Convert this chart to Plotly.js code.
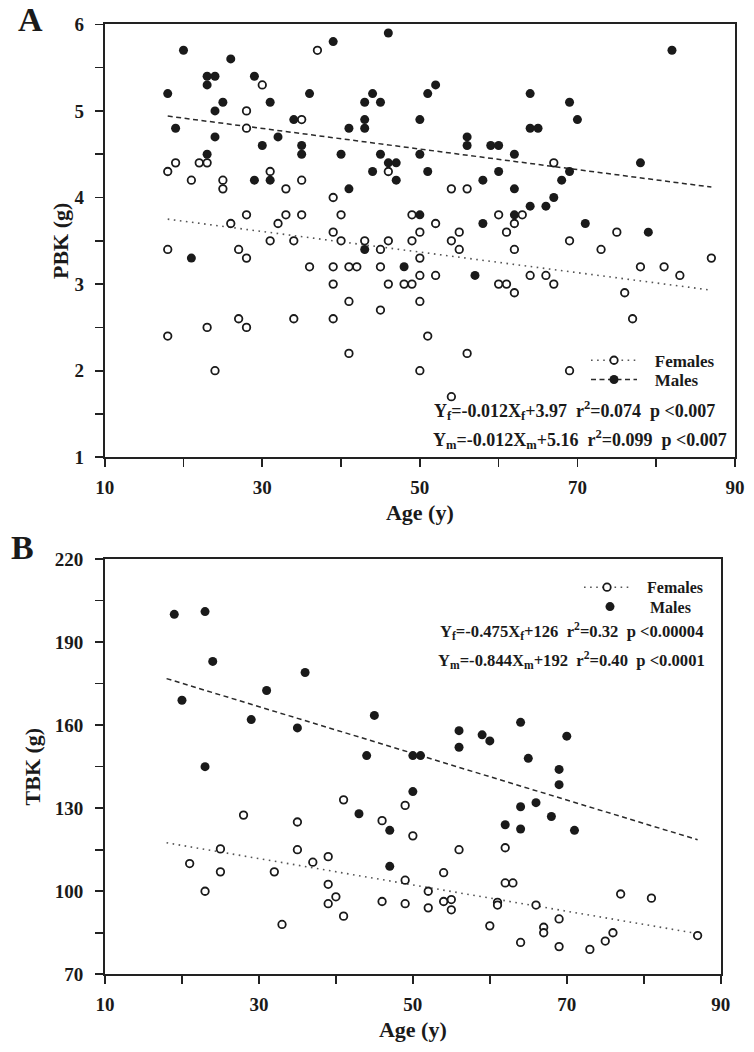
<!DOCTYPE html>
<html>
<head>
<meta charset="utf-8">
<script src="https://cdn.plot.ly/plotly-3.0.1.min.js"></script>
<style>
  html, body { margin: 0; padding: 0; background: #ffffff; }
  #chart { width: 754px; height: 1052px; }
</style>
</head>
<body>
<div id="chart"></div>
<script>
// ---------- Panel A: PBK (g) vs Age (y) ----------
var femaleAgeA = [30,37,35,28,28,46,19,18,22,23,21,25,25,31,33,35,39,28,26,33,35,32,40,49,39,50,
  31,34,40,43,46,49,18,27,28,45,50,36,39,41,42,45,50,39,46,48,49,41,50,45,27,34,39,23,28,18,51,41,24,50,
  54,56,67,60,63,52,62,55,61,75,54,55,62,69,73,87,52,60,61,62,64,66,67,78,81,83,76,77,56,69,54];
var femalePbkA = [5.3,5.7,4.9,5.0,4.8,4.3,4.4,4.3,4.4,4.4,4.2,4.2,4.1,4.3,4.1,4.2,4.0,3.8,3.7,3.8,3.8,3.7,3.8,3.8,3.6,3.6,
  3.5,3.5,3.5,3.5,3.5,3.5,3.4,3.4,3.3,3.4,3.3,3.2,3.2,3.2,3.2,3.2,3.1,3.0,3.0,3.0,3.0,2.8,2.8,2.7,2.6,2.6,2.6,2.5,2.5,2.4,2.4,2.2,2.0,2.0,
  4.1,4.1,4.4,3.8,3.8,3.7,3.7,3.6,3.6,3.6,3.5,3.4,3.4,3.5,3.4,3.3,3.1,3.0,3.0,2.9,3.1,3.1,3.0,3.2,3.2,3.1,2.9,2.6,2.2,2.0,1.7];

var maleAgeA = [18,20,23,24,23,26,29,36,39,46,51,25,31,24,34,19,41,43,43,43,44,45,50,24,32,30,35,35,23,40,45,50,46,47,
  29,31,41,44,47,51,50,21,43,48,
  82,52,64,69,70,64,65,56,56,59,60,62,78,60,69,68,58,62,67,64,66,62,58,71,79,57];
var malePbkA = [5.2,5.7,5.4,5.4,5.3,5.6,5.4,5.2,5.8,5.9,5.2,5.1,5.1,5.0,4.9,4.8,4.8,4.9,4.8,5.1,5.2,5.1,4.9,4.7,4.7,4.6,4.6,4.5,4.5,4.5,4.5,4.5,4.4,4.4,
  4.2,4.2,4.1,4.3,4.2,4.3,3.8,3.3,3.4,3.2,
  5.7,5.3,5.2,5.1,4.9,4.8,4.8,4.7,4.6,4.6,4.6,4.5,4.4,4.3,4.3,4.2,4.2,4.1,4.0,3.9,3.9,3.8,3.7,3.7,3.6,3.1];

// regression lines (end points), panel A
var fitAgeRange = [18, 87];
var fitFemaleA = [3.75, 2.93];
var fitMaleA = [4.94, 4.12];

// ---------- Panel B: TBK (g) vs Age (y) ----------
var femaleAgeB = [28,41,49,35,46,50,25,35,21,25,23,32,37,39,39,40,39,41,33,46,49,49,52,52,
  56,62,54,62,63,54,55,55,61,61,60,64,66,67,67,69,69,73,75,76,77,81,87];
var femaleTbkB = [127.5,133,131,125,125.5,120,115.3,115,110,107,100,107,110.5,112.5,102.5,98,95.5,91,88,96.3,104,95.5,100,94,
  115,115.7,106.7,103,103,96.3,97,93.3,96,95,87.5,81.5,95,87,85,90,80,79,82,85,99,97.5,84];

var maleAgeB = [19,23,24,20,31,36,29,35,45,56,56,59,60,64,70,23,44,50,51,50,43,47,47,65,69,69,66,64,68,62,64,71];
var maleTbkB = [200,201,183,169,172.5,179,162,159,163.5,158,152,156.5,154.3,161,156,145,149,149,149,136,128,122,109,148,144,138.5,132,130.5,127,124,122.5,122];

var fitFemaleB = [117.5, 84.7];
var fitMaleB = [176.8, 118.6];

// ---------- axis ticks (labelled ticks; unlabelled minor ticks every half step) ----------
var ageTickVals = [10,30,50,70,90];
var ageTickText = ['10','30','50','70','90'];
var pbkTickVals = [1,2,3,4,5,6];
var pbkTickText = ['1','2','3','4','5','6'];
var tbkTickVals = [70,100,130,160,190,220];
var tbkTickText = ['70','100','130','160','190','220'];
var ageMinorStep = 10, pbkMinorStep = 0.5, tbkMinorStep = 15;

// equations / legend labels
var eqA = ['Y<sub>f</sub>=-0.012X<sub>f</sub>+3.97\u00a0\u00a0r<sup>2</sup>=0.074\u00a0\u00a0p &lt;0.007',
           'Y<sub>m</sub>=-0.012X<sub>m</sub>+5.16\u00a0\u00a0r<sup>2</sup>=0.099\u00a0\u00a0p &lt;0.007'];
var eqB = ['Y<sub>f</sub>=-0.475X<sub>f</sub>+126\u00a0\u00a0r<sup>2</sup>=0.32\u00a0\u00a0p &lt;0.00004',
           'Y<sub>m</sub>=-0.844X<sub>m</sub>+192\u00a0\u00a0r<sup>2</sup>=0.40\u00a0\u00a0p &lt;0.0001'];
var legendNames = ['Females', 'Males'];

// ---------- layout helpers ----------
var W = 754, H = 1052;
function px(x) { return x / W; }
function py(y) { return 1 - y / H; }

var FONT = 'Liberation Serif, Times New Roman, serif';
var INK = '#1a1a1a';
var PAD = '\u00a0\u00a0\u00a0';

var openMarker = { symbol: 'circle', size: 7.5, color: '#ffffff', line: { color: INK, width: 1.8 } };
var fillMarker = { symbol: 'circle', size: 9, color: INK, line: { color: INK, width: 0 } };
var dotLine = { color: '#555555', width: 1.6, dash: '1.6px,4.5px' };
var dashLine = { color: '#2a2a2a', width: 1.5, dash: '5px,3.5px' };

var traces = [
  // Panel A
  { x: fitAgeRange, y: fitFemaleA, mode: 'lines', line: dotLine, xaxis: 'x', yaxis: 'y', showlegend: false, hoverinfo: 'skip' },
  { x: fitAgeRange, y: fitMaleA, mode: 'lines', line: dashLine, xaxis: 'x', yaxis: 'y', showlegend: false, hoverinfo: 'skip' },
  { x: maleAgeA, y: malePbkA, mode: 'markers', marker: fillMarker, xaxis: 'x', yaxis: 'y', showlegend: false, name: 'Males' },
  { x: femaleAgeA, y: femalePbkA, mode: 'markers', marker: openMarker, xaxis: 'x', yaxis: 'y', showlegend: false, name: 'Females' },
  // Panel A legend entries
  { x: [null], y: [null], mode: 'lines+markers', line: dotLine, marker: openMarker, xaxis: 'x', yaxis: 'y', name: PAD + legendNames[0], legend: 'legend', showlegend: true },
  { x: [null], y: [null], mode: 'lines+markers', line: dashLine, marker: fillMarker, xaxis: 'x', yaxis: 'y', name: PAD + legendNames[1], legend: 'legend2', showlegend: true },
  // Panel B
  { x: fitAgeRange, y: fitFemaleB, mode: 'lines', line: dotLine, xaxis: 'x2', yaxis: 'y2', showlegend: false, hoverinfo: 'skip' },
  { x: fitAgeRange, y: fitMaleB, mode: 'lines', line: dashLine, xaxis: 'x2', yaxis: 'y2', showlegend: false, hoverinfo: 'skip' },
  { x: maleAgeB, y: maleTbkB, mode: 'markers', marker: fillMarker, xaxis: 'x2', yaxis: 'y2', showlegend: false, name: 'Males' },
  { x: femaleAgeB, y: femaleTbkB, mode: 'markers', marker: openMarker, xaxis: 'x2', yaxis: 'y2', showlegend: false, name: 'Females' },
  // Panel B legend entries
  { x: [null], y: [null], mode: 'lines+markers', line: dotLine, marker: openMarker, xaxis: 'x2', yaxis: 'y2', name: PAD + legendNames[0], legend: 'legend3', showlegend: true },
  { x: [null], y: [null], mode: 'markers', marker: fillMarker, xaxis: 'x2', yaxis: 'y2', name: PAD + legendNames[1], legend: 'legend4', showlegend: true }
];

var tickFont = { family: FONT, size: 19, color: INK, weight: 'bold' };
var titleFont = { family: FONT, size: 22, color: INK, weight: 'bold' };

function axisBase(extra, minorStep, minorStart) {
  var a = {
    showline: true, mirror: true, linecolor: '#222222', linewidth: 2,
    ticks: 'outside', ticklen: 8, tickwidth: 1.6, tickcolor: '#222222',
    showgrid: false, zeroline: false, tickmode: 'array',
    minor: { ticks: 'outside', ticklen: 8, tickwidth: 1.6, tickcolor: '#222222', dtick: minorStep, tick0: minorStart, showgrid: false },
    tickfont: tickFont, automargin: false, fixedrange: true
  };
  for (var k in extra) a[k] = extra[k];
  return a;
}

function legendAt(xLeft, yMid, size) {
  return {
    x: px(xLeft), y: py(yMid), xref: 'paper', yref: 'paper',
    xanchor: 'left', yanchor: 'middle', bgcolor: 'rgba(0,0,0,0)', borderwidth: 0,
    itemwidth: 46, font: { family: FONT, size: size, color: INK, weight: 'bold' },
    itemclick: false, itemdoubleclick: false
  };
}

function ann(text, xLeft, yMid, size, anchor) {
  return {
    text: text, xref: 'paper', yref: 'paper', x: px(xLeft), y: py(yMid),
    xanchor: anchor || 'left', yanchor: 'middle', showarrow: false,
    font: { family: FONT, size: size, color: INK, weight: 'bold' }
  };
}

var layout = {
  width: W, height: H,
  margin: { l: 0, r: 0, t: 0, b: 0 },
  paper_bgcolor: '#ffffff', plot_bgcolor: '#ffffff',
  font: { family: FONT, color: INK },
  xaxis: axisBase({
    domain: [px(104.7), px(735)], range: [10, 90], anchor: 'y',
    tickvals: ageTickVals, ticktext: ageTickText, ticklabelstandoff: 4,
    title: { text: 'Age (y)', font: titleFont, standoff: 8 }
  }, ageMinorStep, 10),
  yaxis: axisBase({
    domain: [py(457.3), py(24.3)], range: [1, 6], anchor: 'x',
    tickvals: pbkTickVals, ticktext: pbkTickText, ticklabelstandoff: 7,
    title: { text: 'PBK (g)', font: titleFont, standoff: 0 }
  }, pbkMinorStep, 1),
  xaxis2: axisBase({
    domain: [px(105), px(720.7)], range: [10, 90], anchor: 'y2',
    tickvals: ageTickVals, ticktext: ageTickText, ticklabelstandoff: 4,
    title: { text: 'Age (y)', font: titleFont, standoff: 8 }
  }, ageMinorStep, 10),
  yaxis2: axisBase({
    domain: [py(974.3), py(559)], range: [70, 220], anchor: 'x2',
    tickvals: tbkTickVals, ticktext: tbkTickText, ticklabelstandoff: 8,
    title: { text: 'TBK (g)', font: titleFont, standoff: 8 }
  }, tbkMinorStep, 70),
  legend: legendAt(586, 360.7, 17),
  legend2: legendAt(586, 380, 17),
  legend3: legendAt(579, 587.3, 16),
  legend4: legendAt(582, 606.7, 16),
  annotations: [
    ann(eqA[0], 432, 410, 18),
    ann(eqA[1], 431, 439.3, 18),
    ann(eqB[0], 438, 631.7, 16.6),
    ann(eqB[1], 436, 660.7, 16.6),
    ann('A', 16, 19, 34),
    ann('B', 9, 547, 34)
  ],
  showlegend: true
};

Plotly.newPlot('chart', traces, layout, { staticPlot: true, displayModeBar: false });
</script>
</body>
</html>
